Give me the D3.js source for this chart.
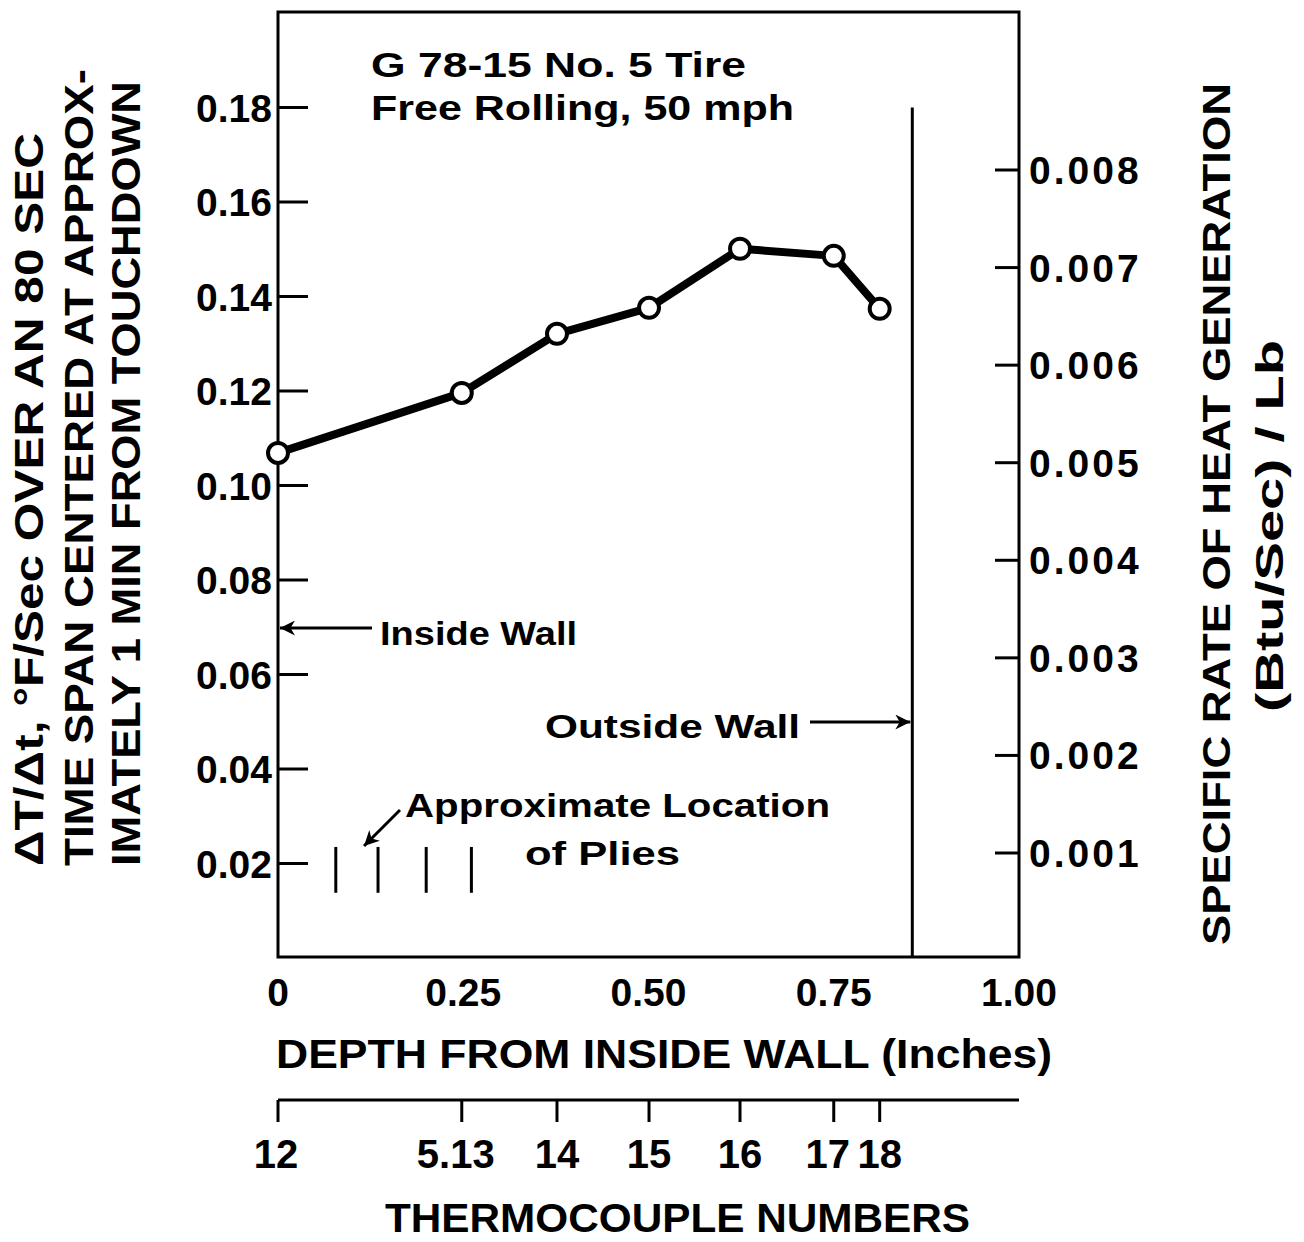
<!DOCTYPE html>
<html>
<head>
<meta charset="utf-8">
<script src="https://cdn.jsdelivr.net/npm/d3@7"></script>
<style>
  body { margin: 0; background: #fff; }
  text { font-family: "Liberation Sans", "DejaVu Sans", sans-serif; fill: #000; }
</style>
</head>
<body>
<svg id="chart" width="1304" height="1242"></svg>
<script>
// depth from inside wall (inches) vs heating rate
var depth = [0, 0.248, 0.3765, 0.5007, 0.6235, 0.750, 0.812];
var rate = [0.1069, 0.1196, 0.1321, 0.1376, 0.1501, 0.1486, 0.1374];
var thermocouples = ["12", "5.13", "14", "15", "16", "17", "18"];
var plies = [0.078, 0.135, 0.200, 0.261];
var pliesRange = [0.0138, 0.0235];
var outsideWall = 0.856;
var leftTicks = [0.02, 0.04, 0.06, 0.08, 0.10, 0.12, 0.14, 0.16, 0.18];
var rightTicks = [0.001, 0.002, 0.003, 0.004, 0.005, 0.006, 0.007, 0.008];
var xTicks = [0, 0.25, 0.50, 0.75, 1.00];
var xTickLabels = ["0", "0.25", "0.50", "0.75", "1.00"];

var svg = d3.select("#chart");

var x = d3.scaleLinear().domain([0, 1]).range([278, 1019]);
var y = d3.scaleLinear().domain([0, 0.2]).range([958, 13]);
var y2 = d3.scaleLinear().domain([0.001, 0.008]).range([853, 170]);

var plotTop = 12, plotBottom = 957;

// frame
svg.append("rect")
    .attr("x", x(0)).attr("y", plotTop)
    .attr("width", x(1) - x(0)).attr("height", plotBottom - plotTop)
    .attr("fill", "none").attr("stroke", "#000").attr("stroke-width", 3);

// left axis, ticks inward
var gl = svg.append("g");
gl.selectAll("line").data(leftTicks).enter().append("line")
    .attr("x1", x(0)).attr("x2", x(0) + 30)
    .attr("y1", function (d) { return y(d); }).attr("y2", function (d) { return y(d); })
    .attr("stroke", "#000").attr("stroke-width", 3);
gl.selectAll("text").data(leftTicks).enter().append("text")
    .attr("x", x(0) - 6).attr("y", function (d) { return y(d) + 14; })
    .attr("text-anchor", "end").attr("font-size", 39)
    .text(function (d) { return d3.format(".2f")(d); });

// right axis, ticks inward
var gr = svg.append("g");
gr.selectAll("line").data(rightTicks).enter().append("line")
    .attr("x1", x(1) - 24).attr("x2", x(1))
    .attr("y1", function (d) { return y2(d); }).attr("y2", function (d) { return y2(d); })
    .attr("stroke", "#000").attr("stroke-width", 3);
gr.selectAll("text").data(rightTicks).enter().append("text")
    .attr("x", x(1) + 10).attr("y", function (d) { return y2(d) + 14; })
    .attr("font-size", 39).attr("letter-spacing", 3)
    .text(function (d) { return d3.format(".3f")(d); });

// bottom axis labels
svg.append("g").selectAll("text").data(xTicks).enter().append("text")
    .attr("x", function (d) { return x(d); }).attr("y", 1006)
    .attr("text-anchor", "middle").attr("font-size", 39)
    .text(function (d, i) { return xTickLabels[i]; });

svg.append("text")
    .attr("x", 276).attr("y", 1068)
    .attr("font-size", 40).attr("textLength", 776).attr("lengthAdjust", "spacingAndGlyphs")
    .text("DEPTH FROM INSIDE WALL (Inches)");

// thermocouple axis
svg.append("line")
    .attr("x1", x(0)).attr("x2", x(1)).attr("y1", 1100).attr("y2", 1100)
    .attr("stroke", "#000").attr("stroke-width", 3);
var gt = svg.append("g");
gt.selectAll("line").data(depth).enter().append("line")
    .attr("x1", function (d) { return x(d); }).attr("x2", function (d) { return x(d); })
    .attr("y1", 1100).attr("y2", 1122)
    .attr("stroke", "#000").attr("stroke-width", 3);
gt.selectAll("text").data(depth).enter().append("text")
    .attr("x", function (d, i) { return x(d) + (i == 0 ? -2 : i == 5 ? -6 : i == 1 ? -6 : 0); })
    .attr("y", 1168)
    .attr("text-anchor", "middle").attr("font-size", 40)
    .text(function (d, i) { return thermocouples[i]; });

svg.append("text")
    .attr("x", 385).attr("y", 1232)
    .attr("font-size", 40).attr("textLength", 585).attr("lengthAdjust", "spacingAndGlyphs")
    .text("THERMOCOUPLE NUMBERS");

// left axis title, three rotated lines
var leftTitle = [
    { t: "\u0394T/\u0394t, \u00b0F/Sec OVER AN 80 SEC", bx: 43, len: 733 },
    { t: "TIME SPAN CENTERED AT APPROX-", bx: 93, len: 797 },
    { t: "IMATELY 1 MIN FROM TOUCHDOWN", bx: 140, len: 785 }
];
leftTitle.forEach(function (l) {
    svg.append("text")
        .attr("transform", "translate(" + l.bx + ",866) rotate(-90)")
        .attr("font-size", 41).attr("textLength", l.len).attr("lengthAdjust", "spacingAndGlyphs")
        .text(l.t);
});

// right axis title
svg.append("text")
    .attr("transform", "translate(1230,945) rotate(-90)")
    .attr("font-size", 38).attr("textLength", 862).attr("lengthAdjust", "spacingAndGlyphs")
    .text("SPECIFIC RATE OF HEAT GENERATION");
svg.append("text")
    .attr("transform", "translate(1283,712) rotate(-90)")
    .attr("font-size", 38).attr("textLength", 372).attr("lengthAdjust", "spacingAndGlyphs")
    .text("(Btu/Sec) / Lb");

// outside wall line
svg.append("line")
    .attr("x1", x(outsideWall)).attr("x2", x(outsideWall))
    .attr("y1", y(0.18)).attr("y2", plotBottom)
    .attr("stroke", "#000").attr("stroke-width", 3);

// plies
svg.append("g").selectAll("line").data(plies).enter().append("line")
    .attr("x1", function (d) { return x(d); }).attr("x2", function (d) { return x(d); })
    .attr("y1", y(pliesRange[0])).attr("y2", y(pliesRange[1]))
    .attr("stroke", "#000").attr("stroke-width", 3);

// arrows
svg.append("defs").append("marker")
    .attr("id", "arr").attr("viewBox", "0 0 10 10")
    .attr("refX", 10).attr("refY", 5)
    .attr("markerWidth", 9).attr("markerHeight", 5)
    .attr("markerUnits", "strokeWidth")
    .attr("orient", "auto")
    .append("path").attr("d", "M0,0 L10,5 L0,10 L3,5 Z").attr("fill", "#000");

function arrow(x1, y1, x2, y2) {
    svg.append("line")
        .attr("x1", x1).attr("y1", y1).attr("x2", x2).attr("y2", y2)
        .attr("stroke", "#000").attr("stroke-width", 3)
        .attr("marker-end", "url(#arr)");
}
arrow(372, 628, x(0) + 2, 628);
arrow(810, 722, x(outsideWall) - 2, 722);
arrow(400, 810, 364, 846);

// annotations
function label(t, x0, yb, len, fs) {
    svg.append("text").attr("x", x0).attr("y", yb)
        .attr("font-size", fs).attr("textLength", len).attr("lengthAdjust", "spacingAndGlyphs")
        .text(t);
}
label("G  78-15  No. 5 Tire", 371, 77, 375, 35);
label("Free Rolling, 50 mph", 371, 120, 423, 35);
label("Inside Wall", 380, 645, 197, 34);
label("Outside Wall", 545, 738, 255, 34);
label("Approximate Location", 405, 817, 425, 34);
label("of Plies", 525, 865, 155, 34);

// data line
var line = d3.line()
    .x(function (d, i) { return x(depth[i]); })
    .y(function (d) { return y(d); });
svg.append("path").datum(rate)
    .attr("d", line)
    .attr("fill", "none").attr("stroke", "#000").attr("stroke-width", 8)
    .attr("stroke-linejoin", "round");
svg.append("g").selectAll("circle").data(rate).enter().append("circle")
    .attr("cx", function (d, i) { return x(depth[i]); })
    .attr("cy", function (d) { return y(d); })
    .attr("r", 10)
    .attr("fill", "#fff").attr("stroke", "#000").attr("stroke-width", 4);

// heavier lettering, like the original drawing
svg.selectAll("text").attr("font-weight", "bold");
</script>
</body>
</html>
